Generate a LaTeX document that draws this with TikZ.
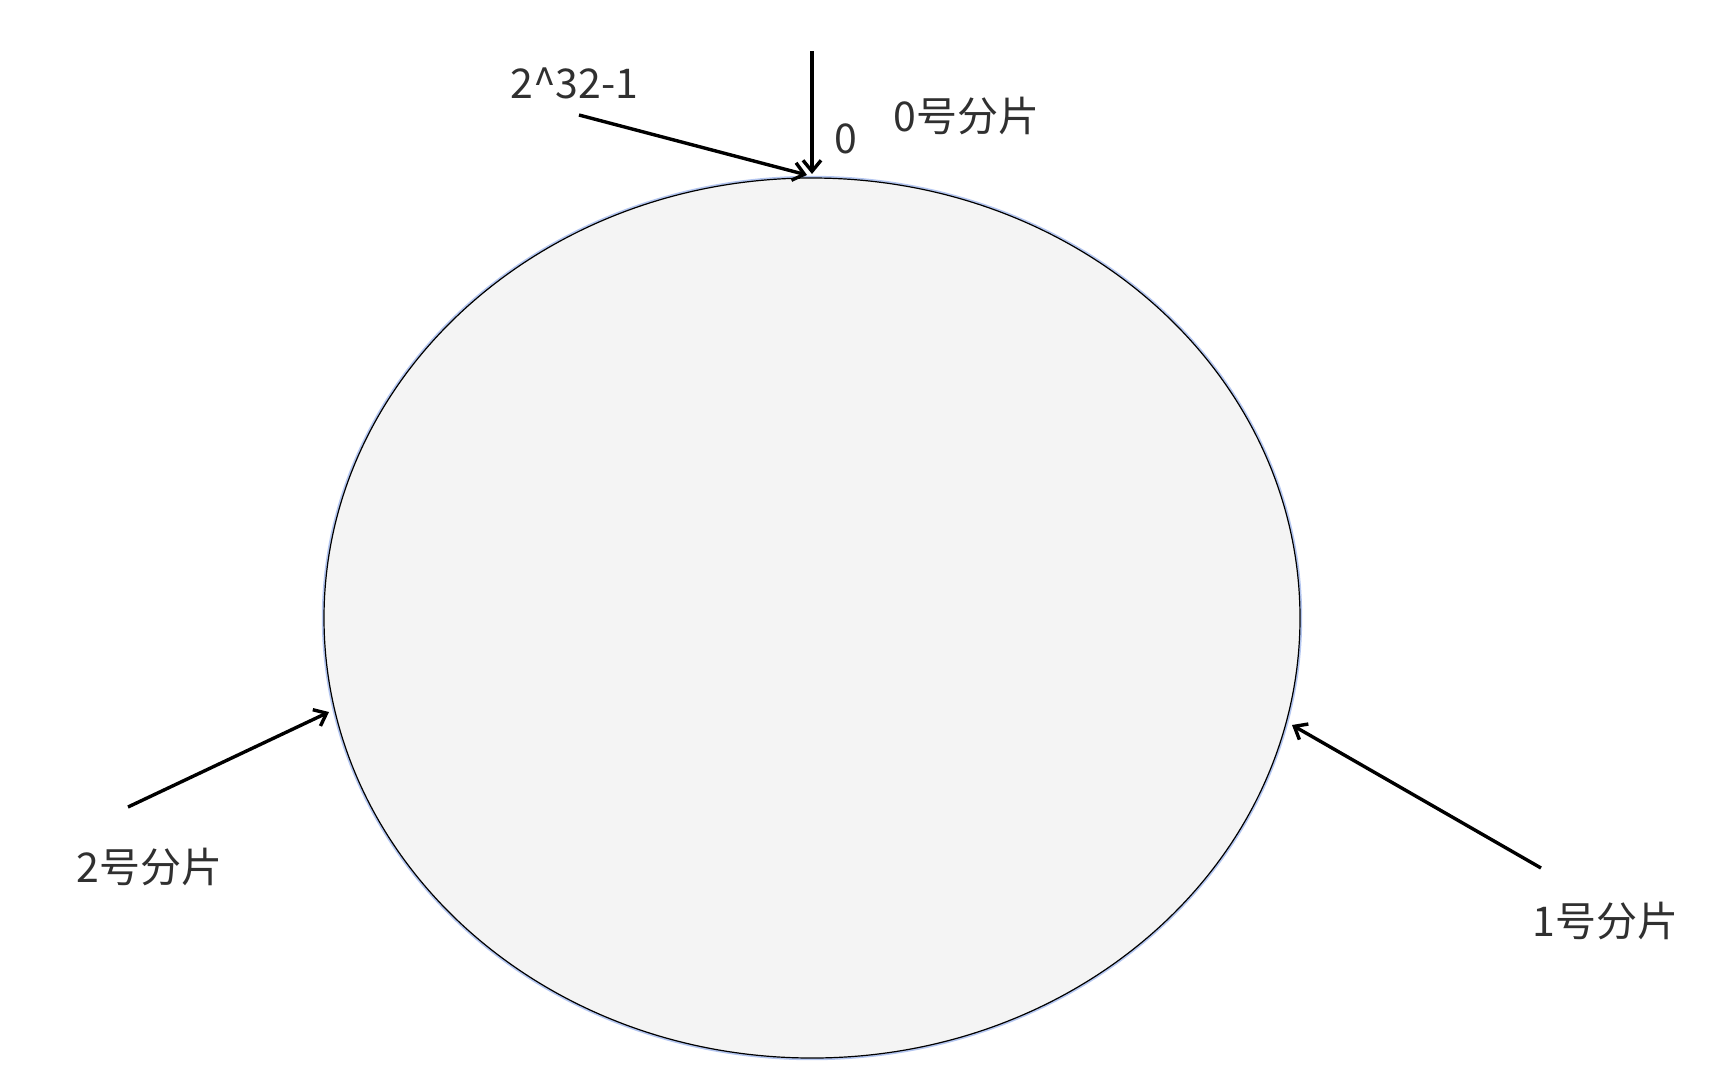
\documentclass[tikz,border=0pt]{standalone}
\usepackage{fontspec}
\usepackage{tikz}
\usetikzlibrary{shapes.geometric,arrows.meta}
\newfontfamily\cjk{Noto Sans CJK SC}
\definecolor{ringfill}{HTML}{F4F4F4}
\definecolor{ringglow}{HTML}{B4C6F0}
\definecolor{txt}{HTML}{303030}

\begin{document}
\begin{tikzpicture}[x=0.5pt, y=-0.5pt]
\tikzset{
  lbl/.style={anchor=base west, inner sep=0, text=txt, font=\cjk\fontsize{20.5}{24}\selectfont},
  arr/.style={-{Straight Barb[length=5.5pt, width=9pt]}, line width=1.7pt}
}
\useasboundingbox (0,0) rectangle (1713,1078);
\node (ring) at (812, 618) [ellipse, draw=black, line width=0.6pt, fill=ringfill, inner sep=0,
  minimum width=488pt, minimum height=440pt,
  preaction={draw=ringglow, line width=2.2pt}] {};
\node (max) at (510, 98) [lbl] {2\textasciicircum 32-1};
\node (zero) at (834, 153) [lbl] {0};
\node (s0) at (893, 131) [lbl] {0号分片};
\node (s2) at (76, 882) [lbl] {2号分片};
\node (s1) at (1532, 936) [lbl] {1号分片};
\coordinate (t0) at (812, 51);
\coordinate (tmax) at (579, 115);
\coordinate (t2) at (128, 807);
\coordinate (t1) at (1541, 868);
\coordinate (h0) at (812, 174);
\coordinate (hmax) at (807, 175);
\coordinate (h2) at (329, 712);
\coordinate (h1) at (1292, 725);
\draw [arr] (t0) -- (h0);
\draw [arr] (tmax) -- (hmax);
\draw [arr] (t2) -- (h2);
\draw [arr] (t1) -- (h1);
\end{tikzpicture}
\end{document}
